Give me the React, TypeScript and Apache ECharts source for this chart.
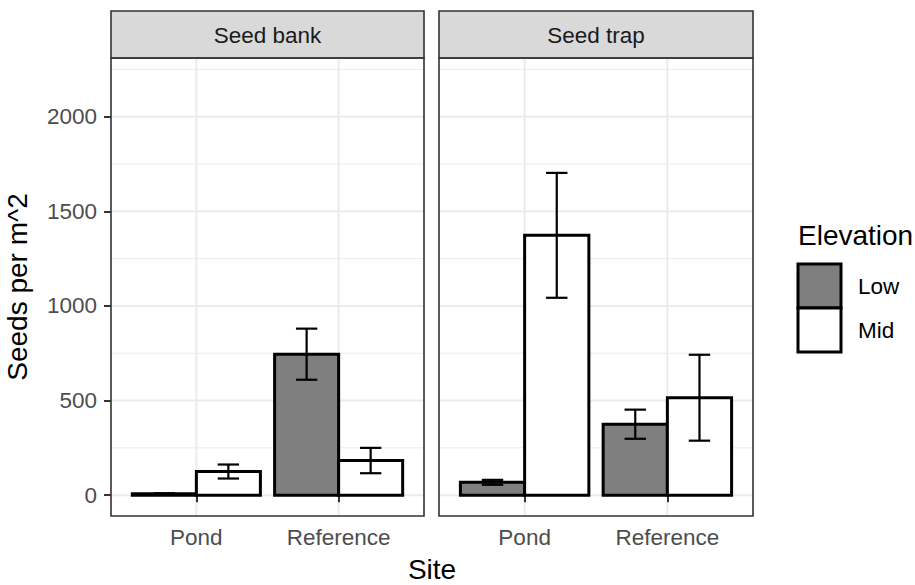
import React, { useEffect, useRef } from "react";
import * as echarts from "echarts";

const panels = ["Seed bank", "Seed trap"];
const sites = ["Pond", "Reference"];
const elevations = ["Low", "Mid"];
const bankLowMean = [7, 745];
const bankLowErr = [3, 135];
const bankMidMean = [125, 183];
const bankMidErr = [37, 67];
const trapLowMean = [68, 375];
const trapLowErr = [13, 77];
const trapMidMean = [1373, 515];
const trapMidErr = [330, 227];
const yTicks = [0, 500, 1000, 1500, 2000];
const yMinor = [250, 750, 1250, 1750, 2250];

const FONT = "'Liberation Sans', Arial, Helvetica, sans-serif";
const X_MIN = 0.4;
const X_MAX = 2.6;
const Y_MIN = -110;
const Y_MAX = 2310;
const DODGE = 0.45;
const CAP = 0.15;
const fills = { Low: "#7f7f7f", Mid: "#ffffff" };

const panelBoxes = [
  { left: 111, width: 313 },
  { left: 439, width: 314 },
];
const TOP = 58;
const HEIGHT = 458;
const STRIP_TOP = 11;

function build(means: number[], errs: number[]) {
  return sites.map((_, i) => [i + 1, means[i], errs[i]]);
}

export default function App() {
  const ref = useRef<HTMLDivElement>(null);
  useEffect(() => {
    if (!ref.current) return;
    const chart = echarts.init(ref.current, undefined, { renderer: "svg" });
    const panelData = [
      { Low: build(bankLowMean, bankLowErr), Mid: build(bankMidMean, bankMidErr) },
      { Low: build(trapLowMean, trapLowErr), Mid: build(trapMidMean, trapMidErr) },
    ];

    const grids = panelBoxes.map((b) => ({
      left: b.left,
      top: TOP,
      width: b.width,
      height: HEIGHT,
      outerBoundsMode: "none",
      containLabel: false,
    }));

    const xAxes = panelBoxes.map((_, gi) => ({
      type: "value",
      gridIndex: gi,
      min: X_MIN,
      max: X_MAX,
      axisLine: { show: false },
      splitLine: { show: false },
      axisTick: {
        show: true,
        customValues: sites.map((_, i) => i + 1),
        length: 7,
        lineStyle: { color: "#333333", width: 2 },
      },
      axisLabel: {
        show: true,
        customValues: sites.map((_, i) => i + 1),
        formatter: (v: number) => sites[Math.round(v) - 1] ?? "",
        color: "#4d4d4d",
        fontSize: 22.5,
        fontFamily: FONT,
        margin: 10,
      },
    }));

    const yAxes = panelBoxes.map((_, gi) => ({
      type: "value",
      gridIndex: gi,
      min: Y_MIN,
      max: Y_MAX,
      axisLine: { show: false },
      splitLine: { show: false },
      axisTick: {
        show: gi === 0,
        customValues: yTicks,
        length: 7,
        lineStyle: { color: "#333333", width: 2 },
      },
      axisLabel: {
        show: gi === 0,
        customValues: yTicks,
        formatter: (v: number) => String(v),
        color: "#4d4d4d",
        fontSize: 22.5,
        fontFamily: FONT,
        margin: 14,
      },
    }));

    const series: any[] = [];
    panelBoxes.forEach((_, gi) => {
      // grid lines
      const gl: number[][] = [];
      yTicks.forEach((v) => gl.push([0, v]));
      yMinor.forEach((v) => gl.push([1, v]));
      sites.forEach((_, i) => gl.push([2, i + 1]));
      series.push({
        type: "custom",
        xAxisIndex: gi,
        yAxisIndex: gi,
        silent: true,
        z: 0,
        data: gl,
        renderItem: (params: any, api: any) => {
          const kind = api.value(0);
          const v = api.value(1);
          let a, b;
          if (kind === 2) {
            a = api.coord([v, Y_MIN]);
            b = api.coord([v, Y_MAX]);
          } else {
            a = api.coord([X_MIN, v]);
            b = api.coord([X_MAX, v]);
          }
          return {
            type: "line",
            shape: { x1: a[0], y1: a[1], x2: b[0], y2: b[1] },
            style: { stroke: "#ebebeb", lineWidth: kind === 1 ? 1 : 2 },
          };
        },
      });
      // bars
      elevations.forEach((el, ei) => {
        const off = (ei === 0 ? -1 : 1) * (DODGE / 2);
        series.push({
          type: "custom",
          name: el,
          xAxisIndex: gi,
          yAxisIndex: gi,
          z: 2,
          data: (panelData[gi] as any)[el],
          renderItem: (params: any, api: any) => {
            const x = api.value(0);
            const v = api.value(1);
            const p0 = api.coord([x + off - DODGE / 2, 0]);
            const p1 = api.coord([x + off + DODGE / 2, v]);
            return {
              type: "rect",
              shape: {
                x: p0[0],
                y: p1[1],
                width: p1[0] - p0[0],
                height: p0[1] - p1[1],
              },
              style: { fill: (fills as any)[el], stroke: "#000000", lineWidth: 3 },
            };
          },
        });
      });
      // error bars
      elevations.forEach((el, ei) => {
        const off = (ei === 0 ? -1 : 1) * (DODGE / 2);
        series.push({
          type: "custom",
          xAxisIndex: gi,
          yAxisIndex: gi,
          z: 3,
          data: (panelData[gi] as any)[el],
          renderItem: (params: any, api: any) => {
            const x = api.value(0) + off;
            const v = api.value(1);
            const e = api.value(2);
            const top = api.coord([x, v + e]);
            const bot = api.coord([x, v - e]);
            const lt = api.coord([x - CAP / 2, v + e]);
            const rt = api.coord([x + CAP / 2, v + e]);
            const lb = api.coord([x - CAP / 2, v - e]);
            const rb = api.coord([x + CAP / 2, v - e]);
            const st = { stroke: "#000000", lineWidth: 2.2 };
            return {
              type: "group",
              children: [
                { type: "line", shape: { x1: top[0], y1: top[1], x2: bot[0], y2: bot[1] }, style: st },
                { type: "line", shape: { x1: lt[0], y1: lt[1], x2: rt[0], y2: rt[1] }, style: st },
                { type: "line", shape: { x1: lb[0], y1: lb[1], x2: rb[0], y2: rb[1] }, style: st },
              ],
            };
          },
        });
      });
    });

    const graphic: any[] = [];
    panelBoxes.forEach((b, gi) => {
      graphic.push({
        type: "rect",
        z: 50,
        shape: { x: b.left, y: STRIP_TOP, width: b.width, height: TOP - STRIP_TOP },
        style: { fill: "#d9d9d9", stroke: "#333333", lineWidth: 1.6 },
      });
      graphic.push({
        type: "text",
        z: 51,
        x: b.left + b.width / 2,
        y: (STRIP_TOP + TOP) / 2 + 0.5,
        style: {
          text: panels[gi],
          fill: "#1a1a1a",
          font: `22.5px ${FONT}`,
          align: "center",
          verticalAlign: "middle",
        },
      });
      graphic.push({
        type: "rect",
        z: 50,
        shape: { x: b.left, y: TOP, width: b.width, height: HEIGHT },
        style: { fill: "none", stroke: "#333333", lineWidth: 1.6 },
      });
    });
    // axis titles
    graphic.push({
      type: "text",
      x: 17,
      y: TOP + HEIGHT / 2,
      rotation: Math.PI / 2,
      style: {
        text: "Seeds per m^2",
        fill: "#000000",
        font: `28px ${FONT}`,
        align: "center",
        verticalAlign: "middle",
      },
    });
    graphic.push({
      type: "text",
      x: (panelBoxes[0].left + panelBoxes[1].left + panelBoxes[1].width) / 2,
      y: 569,
      style: {
        text: "Site",
        fill: "#000000",
        font: `28px ${FONT}`,
        align: "center",
        verticalAlign: "middle",
      },
    });
    // legend
    graphic.push({
      type: "text",
      x: 798,
      y: 235,
      style: {
        text: "Elevation",
        fill: "#000000",
        font: `28px ${FONT}`,
        align: "left",
        verticalAlign: "middle",
      },
    });
    elevations.forEach((el, ei) => {
      const y0 = 264 + ei * 44;
      graphic.push({
        type: "rect",
        shape: { x: 798, y: y0, width: 43, height: 44 },
        style: { fill: (fills as any)[el], stroke: "#000000", lineWidth: 3 },
      });
      graphic.push({
        type: "text",
        x: 858,
        y: y0 + 22,
        style: {
          text: el,
          fill: "#000000",
          font: `22.5px ${FONT}`,
          align: "left",
          verticalAlign: "middle",
        },
      });
    });

    chart.setOption({
      animation: false,
      backgroundColor: "#ffffff",
      grid: grids,
      xAxis: xAxes,
      yAxis: yAxes,
      series,
      graphic,
    });
    return () => chart.dispose();
  }, []);
  return (
    <div
      ref={ref}
      style={{ position: "fixed", left: 0, top: 0, width: 915, height: 585 }}
    />
  );
}
